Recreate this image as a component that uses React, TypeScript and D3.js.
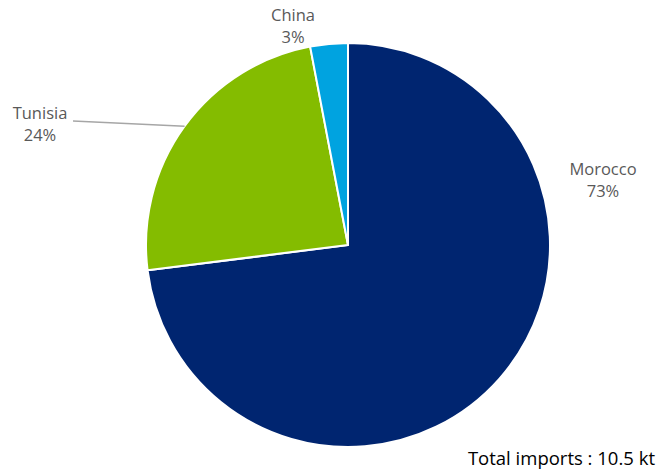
import React from "react";
import * as d3 from "d3";

const categories = ["Morocco", "Tunisia", "China"];
const shares = [73, 24, 3];
const colors = ["#002570", "#84BC00", "#00A3E0"];
const totalLabel = "Total imports : 10.5 kt";

// label anchor positions (layout only)
const labelPos: [number, number][] = [
  [603, 175],
  [40, 119],
  [293, 21],
];

export default function App() {
  const width = 659;
  const height = 470;
  const cx = 348;
  const cy = 245;
  const r = 202;

  const pie = d3
    .pie<number>()
    .sort(null)
    .value((d) => d)
    .startAngle(0)
    .endAngle(2 * Math.PI);
  const arcs = pie(shares);
  const arc = d3.arc<d3.PieArcDatum<number>>().innerRadius(0).outerRadius(r);

  // leader line for Tunisia: to mid-angle point on the arc
  const tun = arcs[1];
  const leaderAngle = (tun.startAngle + tun.endAngle) / 2;
  const lx = Math.sin(leaderAngle) * r;
  const ly = -Math.cos(leaderAngle) * r;

  const font = "'Open Sans', sans-serif";

  return (
    <svg
      width={width}
      height={height}
      style={{ position: "absolute", left: 0, top: 0, background: "#fff" }}
    >
      <g transform={`translate(${cx},${cy})`}>
        {arcs.map((a, i) => (
          <path
            key={categories[i]}
            d={arc(a) || ""}
            fill={colors[i]}
            stroke="#fff"
            strokeWidth={2}
            strokeLinejoin="round"
          />
        ))}
      </g>
      <line
        x1={73}
        y1={121}
        x2={cx + lx}
        y2={cy + ly}
        stroke="#A6A6A6"
        strokeWidth={1.3}
      />
      {categories.map((c, i) => (
        <text
          key={c}
          x={labelPos[i][0]}
          y={labelPos[i][1]}
          textAnchor="middle"
          fontFamily={font}
          fontSize={16.5}
          fill="#595959"
        >
          <tspan x={labelPos[i][0]}>{c}</tspan>
          <tspan x={labelPos[i][0]} dy={22}>
            {shares[i]}%
          </tspan>
        </text>
      ))}
      <text
        x={655}
        y={465}
        textAnchor="end"
        fontFamily={font}
        fontSize={18.5}
        fill="#000"
      >
        {totalLabel}
      </text>
    </svg>
  );
}
